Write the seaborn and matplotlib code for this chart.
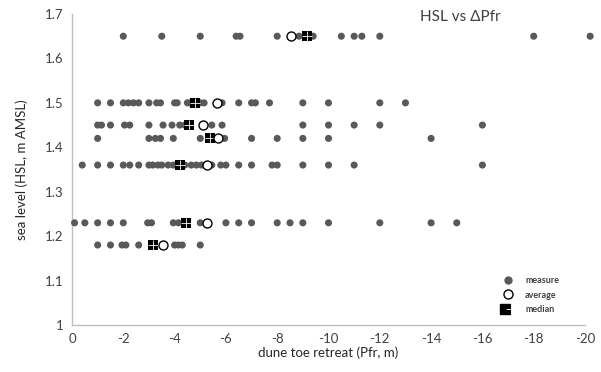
import matplotlib
matplotlib.use("Agg")
import matplotlib.pyplot as plt
from matplotlib.lines import Line2D
from matplotlib.legend_handler import HandlerTuple
import seaborn as sns
import pandas as pd

# ---- data ----
levels = [1.65, 1.50, 1.45, 1.42, 1.36, 1.23, 1.18]

measure_165 = [-2.0, -3.5, -5.0, -6.4, -6.55, -8.0, -8.85, -9.4, -10.5, -11.0, -11.3, -12.0, -18.0, -20.2]
measure_150 = [-1.0, -1.5, -2.0, -2.2, -2.4, -2.6, -3.0, -3.3, -3.45, -4.0, -4.1, -4.5, -4.6,
               -5.0, -5.15, -5.85, -6.5, -7.0, -7.15, -7.7, -9.0, -10.0, -12.0, -13.0]
measure_145 = [-1.0, -1.15, -1.5, -2.05, -2.25, -3.0, -3.55, -3.9, -4.2, -4.4, -5.45, -5.85,
               -9.0, -10.0, -11.0, -12.0, -16.0]
measure_142 = [-1.0, -3.0, -3.25, -3.45, -3.95, -5.0, -5.95, -7.0, -8.0, -9.0, -10.0, -14.0]
measure_136 = [-0.4, -1.0, -1.5, -2.0, -2.25, -2.6, -3.0, -3.15, -3.35, -3.5, -3.75, -3.95,
               -4.4, -4.65, -4.85, -5.05, -5.45, -5.8, -6.0, -6.5, -7.0, -7.8, -8.0,
               -9.0, -10.0, -11.0, -16.0]
measure_123 = [-0.1, -0.5, -1.0, -1.5, -2.0, -2.95, -3.1, -3.95, -4.15, -5.0, -6.0, -6.5,
               -7.0, -8.0, -8.5, -9.0, -10.0, -12.0, -14.0, -15.0]
measure_118 = [-1.0, -1.5, -1.95, -2.1, -2.6, -4.0, -4.15, -4.3, -5.0]

average_x = [-8.55, -5.65, -5.1, -5.7, -5.25, -5.27, -3.55]
median_x = [-9.15, -4.8, -4.57, -5.38, -4.21, -4.44, -3.15]

x_ticks = [0, -2, -4, -6, -8, -10, -12, -14, -16, -18, -20]
y_ticks = [1.0, 1.1, 1.2, 1.3, 1.4, 1.5, 1.6, 1.7]
y_tick_labels = ["1", "1.1", "1.2", "1.3", "1.4", "1.5", "1.6", "1.7"]

measures = [measure_165, measure_150, measure_145, measure_142, measure_136, measure_123, measure_118]
rows = []
for lvl, xs in zip(levels, measures):
    for x in xs:
        rows.append({"retreat": x, "hsl": lvl})
df_measure = pd.DataFrame(rows)
df_avg = pd.DataFrame({"retreat": average_x, "hsl": levels})
df_med = pd.DataFrame({"retreat": median_x, "hsl": levels})

# ---- figure ----
sns.set_theme(style="white")
plt.rcParams["font.family"] = ["Lato", "DejaVu Sans"]
plt.rcParams["axes.unicode_minus"] = False

fig = plt.figure(figsize=(6.01, 3.72), dpi=100)
ax = fig.add_axes([72 / 601, 47 / 372, 513 / 601, 311 / 372])

dot_color = "#595959"
sns.scatterplot(data=df_measure, x="retreat", y="hsl", ax=ax, color=dot_color,
                s=26, edgecolor="none", linewidth=0, clip_on=False, zorder=3)
sns.scatterplot(data=df_med, x="retreat", y="hsl", ax=ax, color="black", marker="s",
                s=50, edgecolor="black", linewidth=0, clip_on=False, zorder=4)
sns.scatterplot(data=df_med, x="retreat", y="hsl", ax=ax, color="white", marker="+",
                s=50, linewidth=0.6, clip_on=False, zorder=5)
sns.scatterplot(data=df_avg, x="retreat", y="hsl", ax=ax, color="white", marker="o",
                s=42, edgecolor="black", linewidth=1.0, clip_on=False, zorder=6)

ax.set_xlim(0, -20)
ax.set_ylim(1.0, 1.7)
ax.set_xticks(x_ticks)
ax.set_xticklabels([str(t) for t in x_ticks])
ax.set_yticks(y_ticks)
ax.set_yticklabels(y_tick_labels)
ax.tick_params(axis="both", length=0, labelsize=9.5, colors="#404040", pad=6)
ax.grid(False)

for side in ["top", "right"]:
    ax.spines[side].set_visible(False)
for side in ["left", "bottom"]:
    ax.spines[side].set_color("#bfbfbf")
    ax.spines[side].set_linewidth(1.0)

ax.set_xlabel("dune toe retreat (Pfr, m)", fontsize=9.5, color="#262626", labelpad=1)
ax.set_ylabel("sea level (HSL, m AMSL)", fontsize=9.5, color="#262626", labelpad=12)

fig.text(460 / 601, 1 - 17 / 372, "HSL vs ΔPfr", ha="center", va="center",
         fontsize=11, color="#404040")

# legend
h_measure = Line2D([], [], linestyle="none", marker="o", markersize=5,
                   markerfacecolor=dot_color, markeredgecolor=dot_color)
h_avg = Line2D([], [], linestyle="none", marker="o", markersize=6.5,
               markerfacecolor="white", markeredgecolor="black", markeredgewidth=1.0)
h_med_sq = Line2D([], [], linestyle="none", marker="s", markersize=7,
                  markerfacecolor="black", markeredgecolor="black")
h_med_plus = Line2D([], [], linestyle="none", marker="+", markersize=7,
                    markeredgecolor="white", markeredgewidth=0.6)
leg = ax.legend([h_measure, h_avg, (h_med_sq, h_med_plus)],
                ["measure", "average", "median"],
                handler_map={tuple: HandlerTuple(ndivide=None, pad=0)},
                loc="center left", bbox_to_anchor=(498 / 601, 1 - 295 / 372),
                bbox_transform=fig.transFigure, frameon=False,
                prop={"size": 6.5, "weight": "bold"}, labelspacing=0.6,
                handletextpad=1.3, handlelength=1.2, borderpad=0)
for t in leg.get_texts():
    t.set_color("#404040")

fig.savefig("out.png", dpi=100)
